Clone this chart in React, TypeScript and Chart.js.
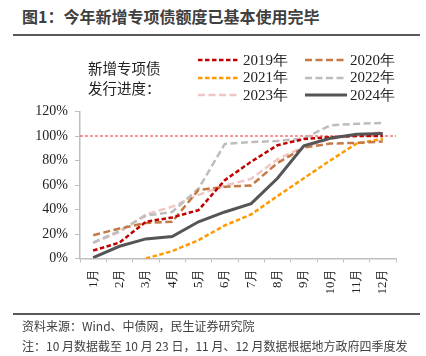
import React, { useEffect, useRef } from 'react';
import { Chart, registerables } from 'chart.js';

Chart.register(...registerables);

const months = ['1月', '2月', '3月', '4月', '5月', '6月', '7月', '8月', '9月', '10月', '11月', '12月'];
const y2019 = [6.5, 13, 30, 33.5, 39.5, 64, 79, 92.5, 97.5, 99, 100, 100];
const y2020 = [19, 24.5, 29, 30, 56, 58.5, 59.6, 78, 90.5, 93.8, 94.4, 95.5];
const y2021 = [null, null, 0, 6, 15, 27, 36, 51, 65.5, 80, 93.8, 97.7];
const y2022 = [13, 22.5, 35, 38, 57, 93.5, 95, 96, 98, 108.7, 110, 110.7];
const y2023 = [12.8, 21.5, 36, 42.3, 52, 59.5, 65, 81, 91, 97.5, 100.5, 103.3];
const y2024 = [0.8, 10, 16, 18, 30, 38, 44.8, 65.5, 92, 98.2, 101.5, 102];
const yMin = 0;
const yMax = 120;
const yStep = 20;
const referenceLevel = 100;

const SERIF = '"Liberation Serif", Tinos, "Times New Roman", "DejaVu Serif", serif';
const SANS = '"Noto Sans CJK SC", "Noto Sans", sans-serif';

type Series = { label: string; data: (number | null)[]; color: string; dash: number[]; width: number; order: number };

const series: Series[] = [
  { label: '2019年', data: y2019, color: '#C00000', dash: [4.5, 2.5], width: 2.5, order: 1 },
  { label: '2020年', data: y2020, color: '#C57A45', dash: [7, 3.5], width: 2.5, order: 2 },
  { label: '2021年', data: y2021, color: '#FF9A00', dash: [4.5, 2.5], width: 2.5, order: 3 },
  { label: '2022年', data: y2022, color: '#BDBDBD', dash: [7, 3.5], width: 2.5, order: 4 },
  { label: '2023年', data: y2023, color: '#F0C6C4', dash: [7, 3.5], width: 2.5, order: 5 },
  { label: '2024年', data: y2024, color: '#555555', dash: [], width: 3, order: 0 },
];

const refLinePlugin = {
  id: 'refLine',
  beforeDatasetsDraw(chart: any) {
    const { ctx, chartArea, scales } = chart;
    const y = scales.y.getPixelForValue(referenceLevel);
    ctx.save();
    ctx.strokeStyle = '#F03030';
    ctx.lineWidth = 1;
    ctx.setLineDash([3, 2]);
    ctx.beginPath();
    ctx.moveTo(chartArea.left, y);
    ctx.lineTo(chartArea.right, y);
    ctx.stroke();
    ctx.restore();
  },
};

function LegendItem({ s, x, y }: { s: Series; x: number; y: number }) {
  return (
    <div style={{ position: 'absolute', left: x, top: y - 10, height: 20, display: 'flex', alignItems: 'center' }}>
      <svg width={42} height={6} style={{ display: 'block' }}>
        <line x1={0} y1={3} x2={42} y2={3} stroke={s.color} strokeWidth={s.width}
          strokeDasharray={s.dash.length ? s.dash.join(' ') : undefined} />
      </svg>
      <span style={{ marginLeft: 3, fontFamily: SERIF, fontSize: 15, color: '#222', whiteSpace: 'nowrap' }}>{s.label}</span>
    </div>
  );
}

export default function App() {
  const canvasRef = useRef<HTMLCanvasElement>(null);

  useEffect(() => {
    const canvas = canvasRef.current;
    if (!canvas) return;
    const chart = new Chart(canvas, {
      type: 'line',
      data: {
        labels: months,
        datasets: series.map((s) => ({
          label: s.label,
          data: s.data,
          borderColor: s.color,
          backgroundColor: s.color,
          borderWidth: s.width,
          borderDash: s.dash,
          pointRadius: 0,
          tension: 0,
          fill: false,
          order: s.order,
          spanGaps: false,
        })),
      },
      options: {
        animation: false,
        responsive: false,
        maintainAspectRatio: false,
        devicePixelRatio: 1,
        layout: { padding: { left: 0, right: 30, top: 111.5, bottom: 0 } },
        plugins: {
          legend: { display: false },
          tooltip: { enabled: false },
          title: { display: false },
        },
        scales: {
          x: {
            type: 'category',
            offset: true,
            grid: { offset: true, drawOnChartArea: false, drawTicks: true, tickLength: 4, color: '#BFBFBF' },
            border: { color: '#BFBFBF', width: 1.5 },
            ticks: {
              minRotation: 90,
              maxRotation: 90,
              autoSkip: false,
              padding: 6,
              color: '#222',
              font: { family: SERIF, size: 13 },
            },
            afterFit: (s: any) => {
              s.height = 356 - 258.5;
            },
          },
          y: {
            min: yMin,
            max: yMax,
            grid: { drawOnChartArea: false, drawTicks: true, tickLength: 5, color: '#BFBFBF' },
            border: { color: '#BFBFBF', width: 1.5 },
            ticks: {
              stepSize: yStep,
              padding: 7,
              color: '#222',
              font: { family: SERIF, size: 14 },
              callback: (v: any) => `${v}%`,
            },
            afterFit: (s: any) => {
              s.width = 80;
            },
          },
        },
      },
      plugins: [refLinePlugin],
    });
    return () => chart.destroy();
  }, []);

  return (
    <div style={{ position: 'fixed', left: 0, top: 0, width: 426, height: 356, background: '#fff', overflow: 'hidden' }}>
      <div style={{ position: 'absolute', left: 22, top: 5, fontFamily: SANS, fontWeight: 700, fontSize: 16, color: '#404040', whiteSpace: 'nowrap', lineHeight: '22px' }}>
        图1：今年新增专项债额度已基本使用完毕
      </div>
      <div style={{ position: 'absolute', left: 13, top: 34, width: 407, height: 2, background: '#595959' }} />
      <canvas ref={canvasRef} width={426} height={356} style={{ position: 'absolute', left: 0, top: 0, display: 'block' }} />
      <div style={{ position: 'absolute', left: 88, top: 58, fontFamily: SANS, fontSize: 14.5, color: '#222', lineHeight: '19.5px', whiteSpace: 'nowrap' }}>
        新增专项债<br />发行进度：
      </div>
      <LegendItem s={series[0]} x={198} y={60} />
      <LegendItem s={series[1]} x={305} y={60} />
      <LegendItem s={series[2]} x={198} y={77.5} />
      <LegendItem s={series[3]} x={305} y={77.5} />
      <LegendItem s={series[4]} x={198} y={95} />
      <LegendItem s={series[5]} x={305} y={95} />
      <div style={{ position: 'absolute', left: 13, top: 313, width: 407, height: 1.5, background: '#595959' }} />
      <div style={{ position: 'absolute', left: 22, top: 318, fontFamily: SANS, fontSize: 12, color: '#404040', whiteSpace: 'nowrap', lineHeight: '16px' }}>
        资料来源：Wind、中债网，民生证券研究院
      </div>
      <div style={{ position: 'absolute', left: 22, top: 338, fontFamily: SANS, fontSize: 12, color: '#404040', whiteSpace: 'nowrap', lineHeight: '16px' }}>
        注：10 月数据截至 10 月 23 日，11 月、12 月数据根据地方政府四季度发
      </div>
    </div>
  );
}
